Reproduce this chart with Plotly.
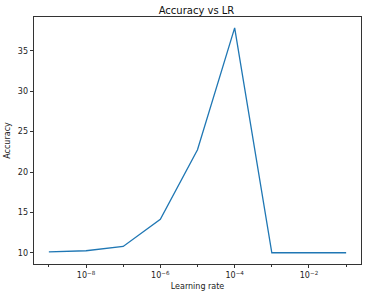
import plotly.graph_objects as go

learning_rates = [1e-9, 1e-8, 1e-7, 1e-6, 1e-5, 1e-4, 1e-3, 1e-2, 1e-1]
accuracy = [10.12, 10.25, 10.78, 14.14, 22.76, 37.85, 10.0, 10.02, 10.0]

x_tick_vals = [1e-8, 1e-6, 1e-4, 1e-2]
x_tick_text = ["10<sup>−8</sup>", "10<sup>−6</sup>", "10<sup>−4</sup>", "10<sup>−2</sup>"]
x_minor_vals = [1e-9, 1e-7, 1e-5, 1e-3, 1e-1]
y_tick_vals = [10, 15, 20, 25, 30, 35]

fig = go.Figure()
fig.add_trace(go.Scatter(x=learning_rates, y=accuracy, mode="lines",
                         line=dict(color="#1f77b4", width=1.3)))

axis_common = dict(showgrid=False, zeroline=False, showline=True, linecolor="#333333",
                   linewidth=0.8, mirror=True, ticks="outside", ticklen=3.5,
                   tickwidth=0.8, tickcolor="#333333",
                   tickfont=dict(size=8, color="#222222", family="DejaVu Sans"))

fig.update_layout(
    width=368, height=296,
    margin=dict(l=31, r=6, t=17, b=31),
    paper_bgcolor="white", plot_bgcolor="white",
    showlegend=False,
    title=dict(text="Accuracy vs LR", x=(31 + 362) / 2 / 368, xanchor="center",
               y=1 - 10 / 296, yanchor="middle",
               font=dict(size=10, color="#111111", family="DejaVu Sans")),
    xaxis=dict(type="log", range=[-9.4, -0.6], tickvals=x_tick_vals, ticktext=x_tick_text,
               minor=dict(tickvals=x_minor_vals, ticks="outside", ticklen=2, tickcolor="#333333"),
               title=dict(text="Learning rate", standoff=4,
                          font=dict(size=8, color="#222222", family="DejaVu Sans")),
               **axis_common),
    yaxis=dict(range=[8.61, 39.19], tickvals=y_tick_vals,
               title=dict(text="Accuracy", standoff=6,
                          font=dict(size=8, color="#222222", family="DejaVu Sans")),
               **axis_common),
)

fig.write_html("out.html")
